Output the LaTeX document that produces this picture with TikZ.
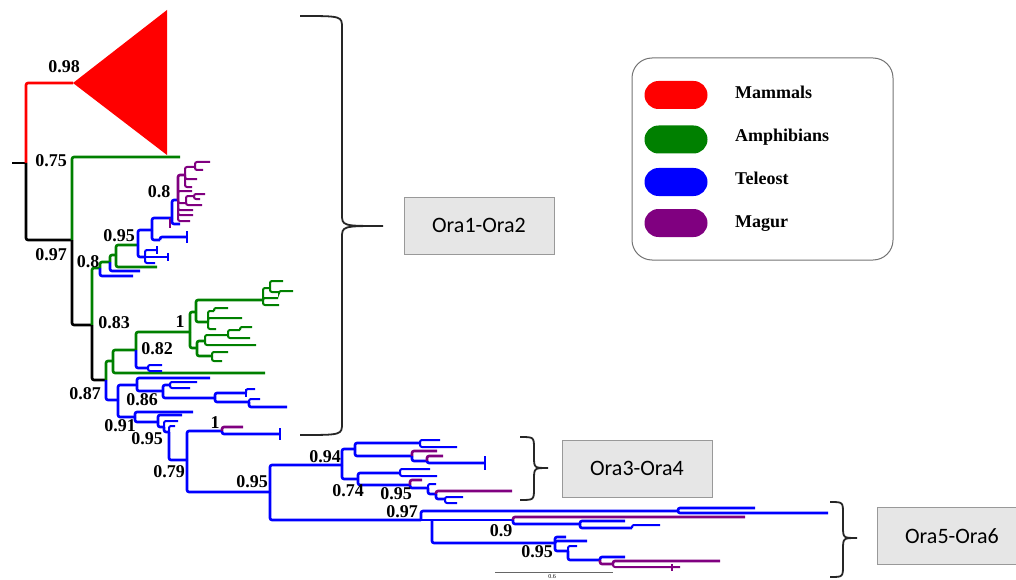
\documentclass[tikz,border=0pt]{standalone}
\usepackage{fontspec}
\setmainfont{Liberation Serif}
\newfontfamily\boxfont{Carlito}
\usetikzlibrary{calc}
\definecolor{mamred}{RGB}{255,0,0}
\definecolor{ampgreen}{RGB}{0,128,0}
\definecolor{telblue}{RGB}{0,0,255}
\definecolor{magpurple}{RGB}{128,0,128}
\definecolor{boxgray}{RGB}{230,230,230}
\tikzset{
	br/.style={line width=2.6pt, rounded corners=2pt},
	mam/.style={br, draw=mamred},
	amp/.style={br, draw=ampgreen},
	tel/.style={br, draw=telblue},
	mag/.style={br, draw=magpurple},
	twa/.style={amp, line width=2pt},
	twt/.style={tel, line width=2pt},
	twm/.style={mag, line width=2pt},
	boot/.style={font=\bfseries\fontsize{18}{20}\selectfont, inner sep=0pt},
	orabox/.style={draw=black!40, line width=1pt, fill=boxgray, minimum width=150pt, minimum height=57pt, font=\boxfont\fontsize{22}{24}\selectfont},
	pill/.style={rounded corners=14pt, minimum width=63pt, minimum height=28pt, inner sep=0pt},
	legtxt/.style={anchor=base west, inner sep=0pt, font=\bfseries\fontsize{18}{20}\selectfont},
	curly/.style={draw=black!85, line width=1.8pt}
}
\def\orabrace(#1,#2,#3,#4,#5,#6){\draw[curly] (#1,#4) .. controls (#2,#4) .. (#2,#4+12) -- (#2,#5-12) .. controls (#2,#5) .. (#3,#5) .. controls (#2,#5) .. (#2,#5+12) -- (#2,#6-12) .. controls (#2,#6) .. (#1,#6);}

\begin{document}
\begin{tikzpicture}[x=1pt, y=-1pt]
			\useasboundingbox (0,0) rectangle (1016,580);
			%%%%% TREE %%%%%
			
			\draw[br] (12,163) -- (26,163);
			\draw[mam] (26,163) |- (73,83);
			\fill[mamred] (73,83) -- (167,10) -- (167,155) -- cycle;
			\draw[br] (26,163) |- (72,240);
			
			\draw[amp] (72,240) |- (180,157);
			\draw[br] (72,240) |- (92,325);
			\draw[amp] (92,325) |- (100,268);
			\draw[br] (92,325) |- (106,380);
			
			\draw[tel] (100,268) |- (133,276);
			\draw[amp] (100,268) |- (110,262);
			\draw[tel] (110,262) |- (140,271);
			\draw[amp] (110,262) |- (116,255);
			\draw[amp] (116,255) |- (157,267);
			\draw[amp] (116,255) |- (138,245);
			
			\draw[tel] (138,245) |- (145,257);
			\draw[twt] (145,257) |- (157,250);
			\draw[twt] (157,246) -- (157,254);
			\draw[twt] (145,257) -- (168,257);
			\draw[twt] (168,253) -- (168,261);
			\draw[twt] (145,257) |- (155,263);
			\draw[tel] (138,245) |- (152,230);
			\draw[tel] (152,230) |- (160,240);
			\draw[tel] (160,240) |- (187,237);
			\draw[twt] (187,231) -- (187,243);
			\draw[tel] (152,230) |- (172,218);
			\draw[twm] (170,218) -- (170,228);
			\draw[tel] (172,218) |- (180,224);
			\draw[tel] (172,218) |- (178,200);
			
			\draw[mag] (178,200) |- (185,175);
			\draw[twm] (185,175) |- (195,167);
			\draw[twm] (195,167) |- (210,162);
			\draw[twm] (195,167) |- (203,170);
			\draw[twm] (185,175) |- (197,179);
			\draw[twm] (185,175) |- (192,187);
			\draw[twm] (178,200) |- (192,191);
			\draw[twm] (178,200) |- (186,203);
			\draw[twm] (186,203) |- (194,196);
			\draw[twm] (194,196) |- (205,194);
			\draw[twm] (194,196) |- (200,199);
			\draw[twm] (186,203) |- (202,205);
			\draw[twm] (178,200) |- (193,210);
			\draw[twm] (178,200) |- (193,215);
			\draw[twm] (178,200) |- (190,221);
			
			\draw[amp] (106,380) |- (113,361);
			\draw[amp] (113,361) |- (265,373);
			\draw[amp] (113,361) |- (136,350);
			\draw[tel] (136,350) |- (148,368);
			\draw[twt] (148,368) |- (162,365);
			\draw[twt] (148,368) |- (162,371);
			\draw[amp] (136,350) |- (190,332);
			
			\draw[amp] (190,332) |- (196,312);
			\draw[amp] (196,312) |- (263,300);
			\draw[twa] (263,300) |- (270,288);
			\draw[twa] (270,288) |- (283,281);
			\draw[twa] (270,288) |- (279,292);
			\draw[twa] (279,292) |- (293,291);
			\draw[twa] (263,300) |- (278,298);
			\draw[twa] (263,300) |- (279,305);
			\draw[amp] (196,312) |- (208,322);
			\draw[twa] (208,322) |- (214,311);
			\draw[twa] (214,311) |- (228,308);
			\draw[twa] (208,322) |- (242,318);
			\draw[twa] (208,322) |- (216,329);
			\draw[amp] (190,332) |- (197,348);
			\draw[amp] (197,348) |- (205,341);
			\draw[twa] (205,341) |- (228,335);
			\draw[twa] (228,335) |- (240,330);
			\draw[twa] (240,330) |- (252,327);
			\draw[twa] (228,335) |- (250,338);
			\draw[twa] (205,341) |- (256,345);
			\draw[amp] (197,348) |- (212,356);
			\draw[twa] (212,356) |- (228,352);
			\draw[twa] (212,356) |- (222,361);
			
			\draw[tel] (106,380) |- (118,400);
			\draw[tel] (118,400) |- (137,385);
			\draw[tel] (137,385) |- (210,378);
			\draw[tel] (137,385) |- (163,391);
			\draw[tel] (163,391) |- (170,385);
			\draw[twt] (170,385) |- (197,382);
			\draw[twt] (170,385) |- (190,388);
			\draw[tel] (163,391) |- (215,398);
			\draw[tel] (215,398) |- (246,393);
			\draw[twt] (246,393) |- (255,389);
			\draw[twt] (246,389) -- (246,397);
			\draw[tel] (215,398) |- (249,402);
			\draw[twt] (249,402) |- (260,399);
			\draw[tel] (249,402) |- (287,407);
			
			\draw[tel] (118,400) |- (135,417);
			\draw[tel] (135,417) |- (193,412);
			\draw[tel] (135,417) |- (158,422);
			\draw[tel] (158,422) |- (182,415);
			\draw[tel] (158,422) |- (164,427);
			\draw[twt] (164,427) |- (178,421);
			\draw[tel] (164,427) |- (169,432);
			\draw[twt] (169,432) |- (175,426);
			\draw[tel] (169,432) |- (187,460);
			
			\draw[tel] (187,460) |- (222,431);
			\draw[mag] (222,431) |- (243,427);
			\draw[tel] (222,431) |- (280,434);
			\draw[twt] (280,428) -- (280,440);
			\draw[tel] (187,460) |- (270,492);
			
			\draw[tel] (270,492) |- (342,465);
			\draw[tel] (342,465) |- (355,449);
			\draw[tel] (355,449) |- (420,443);
			\draw[twt] (420,443) |- (440,440);
			\draw[twt] (420,443) |- (457,447);
			\draw[tel] (355,449) |- (412,456);
			\draw[mag] (412,456) |- (437,451);
			\draw[tel] (412,456) |- (427,461);
			\draw[mag] (427,461) |- (443,456);
			\draw[tel] (427,461) |- (485,463);
			\draw[twt] (485,456) -- (485,470);
			\draw[tel] (342,465) |- (358,479);
			\draw[tel] (358,479) |- (400,473);
			\draw[twt] (400,473) |- (430,469);
			\draw[twt] (400,473) |- (437,476);
			\draw[tel] (358,479) |- (410,485);
			\draw[mag] (410,485) |- (422,480);
			\draw[tel] (410,485) |- (428,488);
			\draw[twt] (428,488) |- (436,484);
			\draw[tel] (428,488) |- (436,494);
			\draw[mag] (436,494) |- (512,491);
			\draw[tel] (436,494) |- (445,499);
			\draw[twt] (445,499) |- (463,497);
			\draw[twt] (445,499) |- (457,503);
			
			\draw[tel] (270,492) |- (421,520);
			\draw[tel] (421,520) |- (678,511);
			\draw[tel] (678,511) |- (755,508);
			\draw[tel] (678,511) |- (828,513);
			\draw[tel] (421,520) -- (432,520);
			\draw[tel] (432,520) -- (513,520);
			\draw[mag] (513,520) |- (745,517);
			\draw[tel] (513,520) |- (580,524);
			\draw[tel] (580,524) |- (625,521);
			\draw[tel] (580,524) |- (632,528);
			\draw[twt] (632,528) |- (660,525);
			\draw[tel] (432,520) |- (555,543);
			\draw[tel] (555,543) |- (566,537);
			\draw[tel] (555,543) |- (587,541);
			\draw[tel] (555,543) |- (568,551);
			\draw[twt] (568,551) |- (577,546);
			\draw[tel] (568,551) |- (600,560);
			\draw[tel] (600,560) |- (625,557);
			\draw[mag] (600,560) |- (613,564);
			\draw[mag] (613,564) |- (720,561);
			\draw[twm] (613,564) |- (680,567);
			\draw[twm] (672,564) -- (672,571);
			
			%%%%% SUPPORT VALUES %%%%%
			\node[boot] (b098) at (64,67) {0.98};
			\node[boot] (b075) at (51,161) {0.75};
			\node[boot] (b097a) at (51,255) {0.97};
			\node[boot] (b08a) at (88,262) {0.8};
			\node[boot] (b095a) at (119,236) {0.95};
			\node[boot] (b08b) at (159,192) {0.8};
			\node[boot] (b083) at (114,323) {0.83};
			\node[boot] (b1a) at (180,322) {1};
			\node[boot] (b082) at (157,349) {0.82};
			\node[boot] (b087) at (85,394) {0.87};
			\node[boot] (b086) at (142,400) {0.86};
			\node[boot] (b091) at (120,426) {0.91};
			\node[boot] (b095b) at (147,439) {0.95};
			\node[boot] (b1b) at (215,423) {1};
			\node[boot] (b079) at (169,472) {0.79};
			\node[boot] (b095c) at (252,482) {0.95};
			\node[boot] (b094) at (325,457) {0.94};
			\node[boot] (b074) at (348,491) {0.74};
			\node[boot] (b095d) at (396,494) {0.95};
			\node[boot] (b097b) at (402,512) {0.97};
			\node[boot] (b09) at (501,531) {0.9};
			\node[boot] (b095e) at (537,552) {0.95};
			
			%%%%% SCALE %%%%%
			\draw[black!60, line width=1pt] (495,572) -- (613,572);
			\node[inner sep=0pt, font=\fontsize{6}{7}\selectfont, anchor=north] (scl) at (552,574) {0.6};
			
			%%%%% GROUPS %%%%%
			\orabrace(300,342,383,16,226,435)
			\orabrace(520,534,548,437,468,500)
			\orabrace(830,843,857,502,538,577)
			\node[orabox] (ora12) at (479,225.5) {Ora1-Ora2};
			\node[orabox] (ora34) at (637,468.5) {Ora3-Ora4};
			\node[orabox] (ora56) at (952,536) {Ora5-Ora6};
			
			%%%%% LEGEND %%%%%
			\draw[black!55, line width=1pt, rounded corners=20pt] (632,58) rectangle (893,260);
			\node[pill, fill=mamred] (kmam) at (676,95) {};
			\node[pill, fill=ampgreen] (kamp) at (676,139.5) {};
			\node[pill, fill=telblue] (ktel) at (676,182) {};
			\node[pill, fill=magpurple] (kmag) at (676,223) {};
			\node[legtxt] (tmam) at (735,99) {Mammals};
			\node[legtxt] (tamp) at (735,142) {Amphibians};
			\node[legtxt] (ttel) at (735,185) {Teleost};
			\node[legtxt] (tmag) at (735,227) {Magur};
			
		\end{tikzpicture}
\end{document}
